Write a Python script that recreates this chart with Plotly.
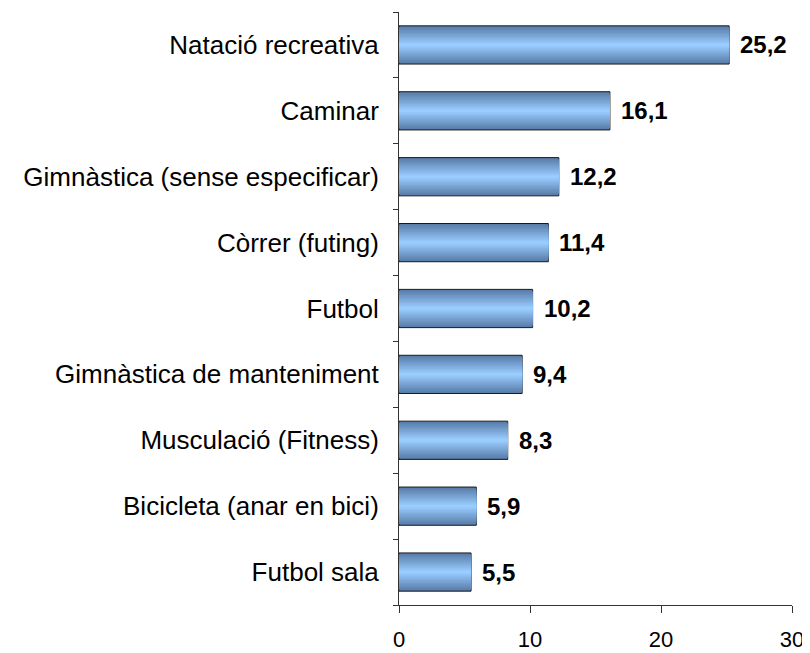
import plotly.graph_objects as go

categories = ["Natació recreativa", "Caminar", "Gimnàstica (sense especificar)",
              "Còrrer (futing)", "Futbol", "Gimnàstica de manteniment",
              "Musculació (Fitness)", "Bicicleta (anar en bici)", "Futbol sala"]
values = [25.2, 16.1, 12.2, 11.4, 10.2, 9.4, 8.3, 5.9, 5.5]
value_labels = ["25,2", "16,1", "12,2", "11,4", "10,2", "9,4", "8,3", "5,9", "5,5"]
x_ticks = [0, 10, 20, 30]

FONT = "Liberation Sans, Arial, sans-serif"
BAR_W = 0.58
N = 14
dark = (88, 124, 168)
light = (153, 204, 255)

fig = go.Figure()
for k in range(N):
    t = k / (N - 1)
    c = tuple(round(dark[i] + (light[i] - dark[i]) * t) for i in range(3))
    w = BAR_W * (1 - k / N)
    outer = k == 0
    fig.add_trace(go.Bar(
        y=categories, x=values, orientation="h",
        width=[w] * len(values),
        marker=dict(color="rgb(%d,%d,%d)" % c,
                    line=dict(color="#1a1a1a" if outer else "rgba(0,0,0,0)", width=1 if outer else 0)),
        hoverinfo="skip",
        showlegend=False,
    ))

for cat, v, lab in zip(categories, values, value_labels):
    fig.add_annotation(x=v, y=cat, text="<b>%s</b>" % lab, showarrow=False,
                       xanchor="left", yanchor="middle", xshift=9,
                       font=dict(family=FONT, size=24, color="black"))

# page body has an 8px default margin, so the figure is sized/offset to compensate
fig.update_layout(
    width=802, height=645,
    barmode="overlay",
    paper_bgcolor="white", plot_bgcolor="white",
    margin=dict(l=391, r=18, t=4, b=48),
    font=dict(family=FONT, size=20, color="black"),
    xaxis=dict(range=[0, 30], tickvals=x_ticks, ticks="outside", ticklen=7,
               tickcolor="#333", showline=True, linecolor="#333", linewidth=1,
               showgrid=False, zeroline=False, tickfont=dict(size=22),
               automargin=False, ticklabelstandoff=8),
    yaxis=dict(categoryorder="array", categoryarray=categories[::-1],
               ticks="outside", ticklen=5, tickson="boundaries", tickcolor="#333",
               showline=True, linecolor="#333", linewidth=1, showgrid=False,
               tickfont=dict(size=26), automargin=False, ticklabelstandoff=14),
)

fig.write_html("out.html")
